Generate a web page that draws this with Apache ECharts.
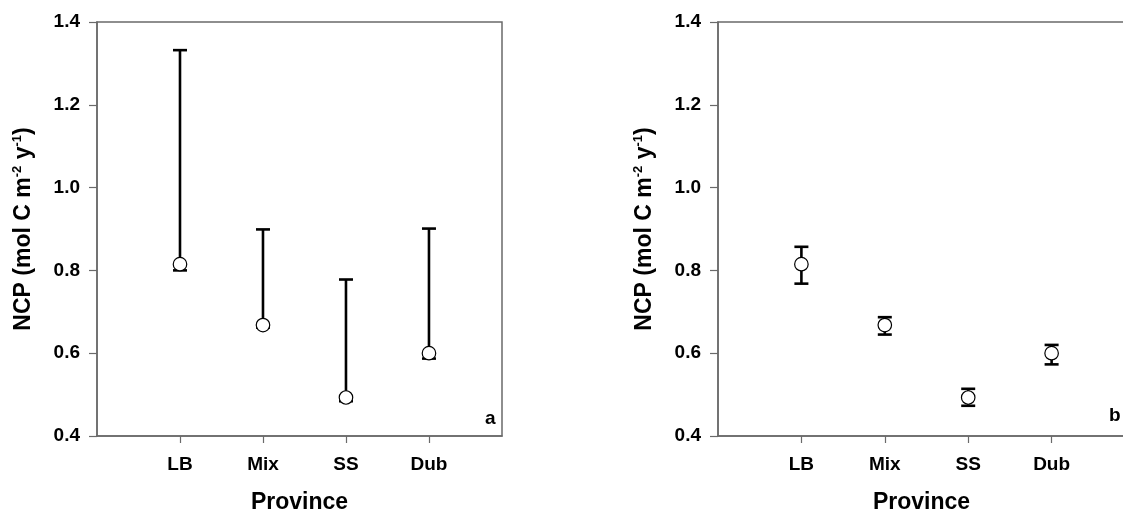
<!DOCTYPE html>
<html>
<head>
<meta charset="utf-8">
<script src="https://cdn.jsdelivr.net/npm/echarts@6/dist/echarts.min.js"></script>
<style>
html,body{margin:0;padding:0;background:#fff;}
#chart{width:1123px;height:511px;}
</style>
</head>
<body>
<div id="chart"></div>
<script>
// ---- data ----
const categories = ['LB', 'Mix', 'SS', 'Dub'];
const meanNCP = [0.815, 0.668, 0.493, 0.600];
const panelA_upper = [1.332, 0.899, 0.778, 0.901];
const panelA_lower = [0.800, 0.662, 0.484, 0.587];
const panelB_upper = [0.857, 0.687, 0.514, 0.620];
const panelB_lower = [0.768, 0.645, 0.473, 0.573];
const yTicks = [0.4, 0.6, 0.8, 1.0, 1.2, 1.4];
const panelLabels = ['a', 'b'];

const FONT = '"Liberation Sans", Arial, sans-serif';
const AXIS_COLOR = '#6a6a6a';

const chart = echarts.init(document.getElementById('chart'), null, {renderer: 'canvas'});

const xPos = categories.map((c, i) => i + 1);

function errRender(params, api) {
  const x = api.value(0), lo = api.value(1), hi = api.value(2);
  const pLo = api.coord([x, lo]);
  const pHi = api.coord([x, hi]);
  const hw = 7;
  const st = {stroke: '#000', lineWidth: 2.6};
  return {
    type: 'group',
    children: [
      {type: 'line', shape: {x1: pLo[0], y1: pLo[1], x2: pHi[0], y2: pHi[1]}, style: st},
      {type: 'line', shape: {x1: pHi[0] - hw, y1: pHi[1], x2: pHi[0] + hw, y2: pHi[1]}, style: st},
      {type: 'line', shape: {x1: pLo[0] - hw, y1: pLo[1], x2: pLo[0] + hw, y2: pLo[1]}, style: st}
    ]
  };
}

function xAxisDef(gi) {
  return {
    type: 'value', gridIndex: gi, min: 0, max: 4.88, interval: 1,
    name: 'Province', nameLocation: 'middle', nameGap: 55,
    nameTextStyle: {fontFamily: FONT, fontWeight: 'bold', fontSize: 23, color: '#000'},
    axisLine: {show: true, lineStyle: {color: AXIS_COLOR, width: 1.5}},
    axisTick: {show: true, inside: false, length: 7, customValues: xPos, lineStyle: {color: AXIS_COLOR, width: 1.2}},
    axisLabel: {
      show: true, margin: 19, customValues: xPos,
      fontFamily: FONT, fontWeight: 'bold', fontSize: 19, color: '#000',
      formatter: v => categories[Math.round(v) - 1] || ''
    },
    splitLine: {show: false}
  };
}

function yAxisDef(gi) {
  return {
    type: 'value', gridIndex: gi, min: yTicks[0], max: yTicks[yTicks.length - 1], interval: 0.2,
    name: 'NCP (mol C m{sup|-2} y{sup|-1})', nameLocation: 'middle', nameGap: 60,
    nameTextStyle: {
      fontFamily: FONT, fontWeight: 'bold', fontSize: 23, color: '#000', lineHeight: 26,
      rich: {sup: {fontFamily: FONT, fontWeight: 'bold', fontSize: 13, color: '#000', lineHeight: 26, verticalAlign: 'top'}}
    },
    axisLine: {show: true, lineStyle: {color: AXIS_COLOR, width: 1.5}},
    axisTick: {show: true, inside: false, length: 8, lineStyle: {color: AXIS_COLOR, width: 1.2}},
    axisLabel: {
      show: true, margin: 17,
      fontFamily: FONT, fontWeight: 'bold', fontSize: 19, color: '#000',
      formatter: v => v.toFixed(1)
    },
    splitLine: {show: false}
  };
}

const gridStyle = {show: true, borderColor: AXIS_COLOR, borderWidth: 1.5, backgroundColor: 'transparent', containLabel: false, outerBoundsMode: 'none'};

const option = {
  animation: false,
  backgroundColor: '#fff',
  grid: [
    Object.assign({left: 97, top: 22, width: 405, height: 414}, gridStyle),
    Object.assign({left: 718, top: 22, width: 407, height: 414}, gridStyle)
  ],
  xAxis: [xAxisDef(0), xAxisDef(1)],
  yAxis: [yAxisDef(0), yAxisDef(1)],
  graphic: [
    {type: 'text', left: 485, top: 409, style: {text: panelLabels[0], font: 'bold 19px ' + FONT, fill: '#000'}},
    {type: 'text', left: 1109, top: 406, style: {text: panelLabels[1], font: 'bold 19px ' + FONT, fill: '#000'}}
  ],
  series: [
    {
      type: 'custom', xAxisIndex: 0, yAxisIndex: 0, z: 2,
      renderItem: errRender,
      data: xPos.map((x, i) => [x, panelA_lower[i], panelA_upper[i]])
    },
    {
      type: 'custom', xAxisIndex: 1, yAxisIndex: 1, z: 2,
      renderItem: errRender,
      data: xPos.map((x, i) => [x, panelB_lower[i], panelB_upper[i]])
    },
    {
      type: 'scatter', xAxisIndex: 0, yAxisIndex: 0, z: 5,
      symbol: 'circle', symbolSize: 13.5,
      itemStyle: {color: '#fff', borderColor: '#000', borderWidth: 1.2, opacity: 1},
      data: xPos.map((x, i) => [x, meanNCP[i]])
    },
    {
      type: 'scatter', xAxisIndex: 1, yAxisIndex: 1, z: 5,
      symbol: 'circle', symbolSize: 13.5,
      itemStyle: {color: '#fff', borderColor: '#000', borderWidth: 1.2, opacity: 1},
      data: xPos.map((x, i) => [x, meanNCP[i]])
    }
  ]
};

chart.setOption(option);
</script>
</body>
</html>
